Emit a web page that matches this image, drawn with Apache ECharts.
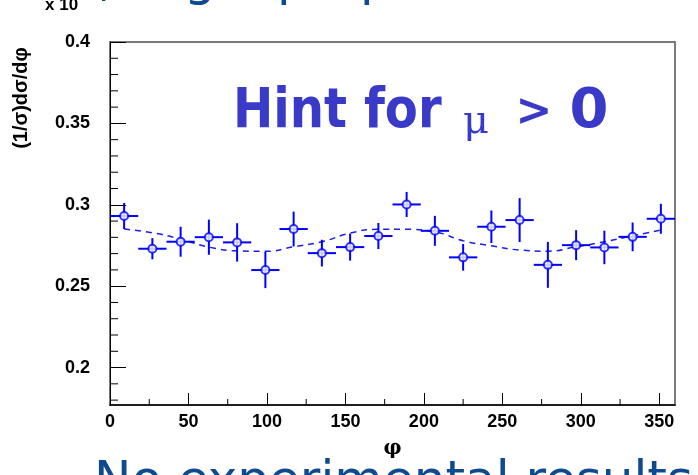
<!DOCTYPE html>
<html><head><meta charset="utf-8">
<script src="https://cdn.jsdelivr.net/npm/echarts@6/dist/echarts.min.js"></script>
<style>html,body{margin:0;padding:0;background:#fff}#c{width:698px;height:475px}</style>
</head><body><div id="c"></div>
<script>
// Bin centres (degrees), half bin width, measured values and errors
const phiCenters = [9, 27, 45, 63, 81, 99, 117, 135, 153, 171, 189, 207, 225, 243, 261, 279, 297, 315, 333, 351];
const binHalfWidth = [9, 9, 9, 9, 9, 9, 9, 9, 9, 9, 9, 9, 9, 9, 9, 9, 9, 9, 9, 9];
const dataValues = [0.2931, 0.2730, 0.2773, 0.2801, 0.2769, 0.2599, 0.2851, 0.2703, 0.2740, 0.2808,
                    0.3002, 0.2840, 0.2677, 0.2865, 0.2906, 0.2631, 0.2752, 0.2738, 0.2803, 0.2914];
const dataErrors = [0.0080, 0.0065, 0.0092, 0.0108, 0.0118, 0.0111, 0.0107, 0.0082, 0.0083, 0.0080,
                    0.0077, 0.0092, 0.0082, 0.0100, 0.0135, 0.0141, 0.0092, 0.0103, 0.0088, 0.0092];
// Dashed theory curve read at the bin centres
const curveValues = [0.2851, 0.2828, 0.2789, 0.2740, 0.2717, 0.2714, 0.2742, 0.2773, 0.2826, 0.2849,
                     0.2849, 0.2834, 0.2779, 0.2748, 0.2722, 0.2715, 0.2742, 0.2773, 0.2809, 0.2845];
// Minor tick positions
const xMinorTicks = [25, 75, 125, 175, 225, 275, 325];
const yMinorTicks = [0.18, 0.19, 0.21, 0.22, 0.23, 0.24, 0.26, 0.27, 0.28, 0.29, 0.31, 0.32, 0.33, 0.34, 0.36, 0.37, 0.38, 0.39];

const BLUE = '#0000ff';
const chart = echarts.init(document.getElementById('c'), null, {renderer: 'canvas'});

const pointData = phiCenters.map((p, i) => [p, dataValues[i], dataErrors[i], binHalfWidth[i]]);
const curveData = phiCenters.map((p, i) => [p, curveValues[i]]);
const tickData = xMinorTicks.map(v => [v, 0.177, 0]).concat(yMinorTicks.map(v => [0, v, 1]));

const labelFont = {fontFamily: 'Liberation Sans', fontWeight: 'bold', fontSize: 18, color: '#000'};

chart.setOption({
  animation: false,
  backgroundColor: '#fff',
  grid: {left: 110, right: 23, top: 42, bottom: 70, show: true, borderColor: '#7a7a7a', borderWidth: 2, backgroundColor: 'transparent'},
  xAxis: {
    type: 'value', min: 0, max: 360, interval: 50,
    axisLine: {show: true, onZero: false, lineStyle: {color: '#000', width: 1.5}},
    axisTick: {show: true, inside: true, length: 12, lineStyle: {color: '#000', width: 1}},
    axisLabel: Object.assign({margin: 8, showMaxLabel: false}, labelFont),
    splitLine: {show: false},
    name: 'φ', nameLocation: 'middle', nameGap: 34,
    nameTextStyle: {fontFamily: 'DejaVu Serif', fontWeight: 'bold', fontSize: 20, color: '#000'}
  },
  yAxis: {
    type: 'value', min: 0.177, max: 0.4, splitNumber: 5,
    axisLine: {show: true, onZero: false, lineStyle: {color: '#000', width: 1}},
    axisTick: {show: true, inside: true, length: 16, lineStyle: {color: '#000', width: 1}},
    axisLabel: Object.assign({margin: 20, showMinLabel: false}, labelFont),
    splitLine: {show: false}
  },
  graphic: [
    {type: 'text', x: 21, y: 98, rotation: Math.PI / 2,
     style: {text: '(1/σ)dσ/dφ', font: 'bold 20px "Liberation Sans"', fill: '#000', align: 'center', verticalAlign: 'middle'}},
    {type: 'text', x: 45, y: 5,
     style: {text: 'x 10', font: 'bold 17px "Liberation Sans"', fill: '#000', align: 'left', verticalAlign: 'middle'}},
    {type: 'text', x: 233, y: 112, scaleX: 0.86,
     style: {text: 'Hint for', font: 'bold 56px "DejaVu Sans"', fill: '#3a3ac8', align: 'left', verticalAlign: 'middle'}},
    {type: 'text', x: 476, y: 123,
     style: {text: 'μ', font: '40px "DejaVu Serif"', fill: '#3a3ac8', align: 'center', verticalAlign: 'middle'}},
    {type: 'text', x: 534, y: 114,
     style: {text: '>', font: 'bold 44px "DejaVu Sans"', fill: '#3a3ac8', align: 'center', verticalAlign: 'middle'}},
    {type: 'text', x: 589, y: 112,
     style: {text: '0', font: 'bold 56px "DejaVu Sans"', fill: '#3a3ac8', align: 'center', verticalAlign: 'middle'}},
    {type: 'text', x: 94, y: 483,
     style: {text: 'No experimental results', font: '50px "DejaVu Sans"', fill: '#0e4a8f', align: 'left', verticalAlign: 'middle'}},
    {type: 'text', x: 98, y: -18,
     style: {text: ',', font: '50px "DejaVu Sans"', fill: '#0e4a8f', align: 'left', verticalAlign: 'middle'}},
    {type: 'text', x: 184, y: -18,
     style: {text: 'g', font: '50px "DejaVu Sans"', fill: '#0e4a8f', align: 'left', verticalAlign: 'middle'}},
    {type: 'text', x: 277, y: -18,
     style: {text: 'p', font: '50px "DejaVu Sans"', fill: '#0e4a8f', align: 'left', verticalAlign: 'middle'}},
    {type: 'text', x: 360, y: -18,
     style: {text: 'p', font: '50px "DejaVu Sans"', fill: '#0e4a8f', align: 'left', verticalAlign: 'middle'}}
  ],
  series: [
    {
      type: 'custom', name: 'minorTicks', data: tickData, z: 3, silent: true,
      renderItem: function (params, api) {
        const c = api.coord([api.value(0), api.value(1)]);
        if (api.value(2) === 0) {
          return {type: 'line', shape: {x1: c[0], y1: c[1], x2: c[0], y2: c[1] - 6}, style: {stroke: '#000', lineWidth: 1}};
        }
        return {type: 'line', shape: {x1: c[0], y1: c[1], x2: c[0] + 8, y2: c[1]}, style: {stroke: '#000', lineWidth: 1}};
      }
    },
    {
      type: 'line', name: 'theory', data: curveData, smooth: true, showSymbol: false, z: 4,
      lineStyle: {color: '#1e1ee6', width: 1.5, type: [6, 5]}
    },
    {
      type: 'custom', name: 'errors', data: pointData, z: 5,
      renderItem: function (params, api) {
        const x = api.value(0), y = api.value(1), e = api.value(2), hw = api.value(3);
        const l = api.coord([x - hw, y]), r = api.coord([x + hw, y]);
        const t = api.coord([x, y + e]), b = api.coord([x, y - e]);
        return {type: 'group', children: [
          {type: 'line', shape: {x1: l[0], y1: l[1], x2: r[0], y2: r[1]}, style: {stroke: BLUE, lineWidth: 2}},
          {type: 'line', shape: {x1: t[0], y1: t[1], x2: b[0], y2: b[1]}, style: {stroke: BLUE, lineWidth: 2}}
        ]};
      }
    },
    {
      type: 'scatter', name: 'data', data: pointData.map(d => [d[0], d[1]]), z: 6,
      symbol: 'circle', symbolSize: 8,
      itemStyle: {color: '#fff', borderColor: BLUE, borderWidth: 2}
    }
  ]
});
</script></body></html>
